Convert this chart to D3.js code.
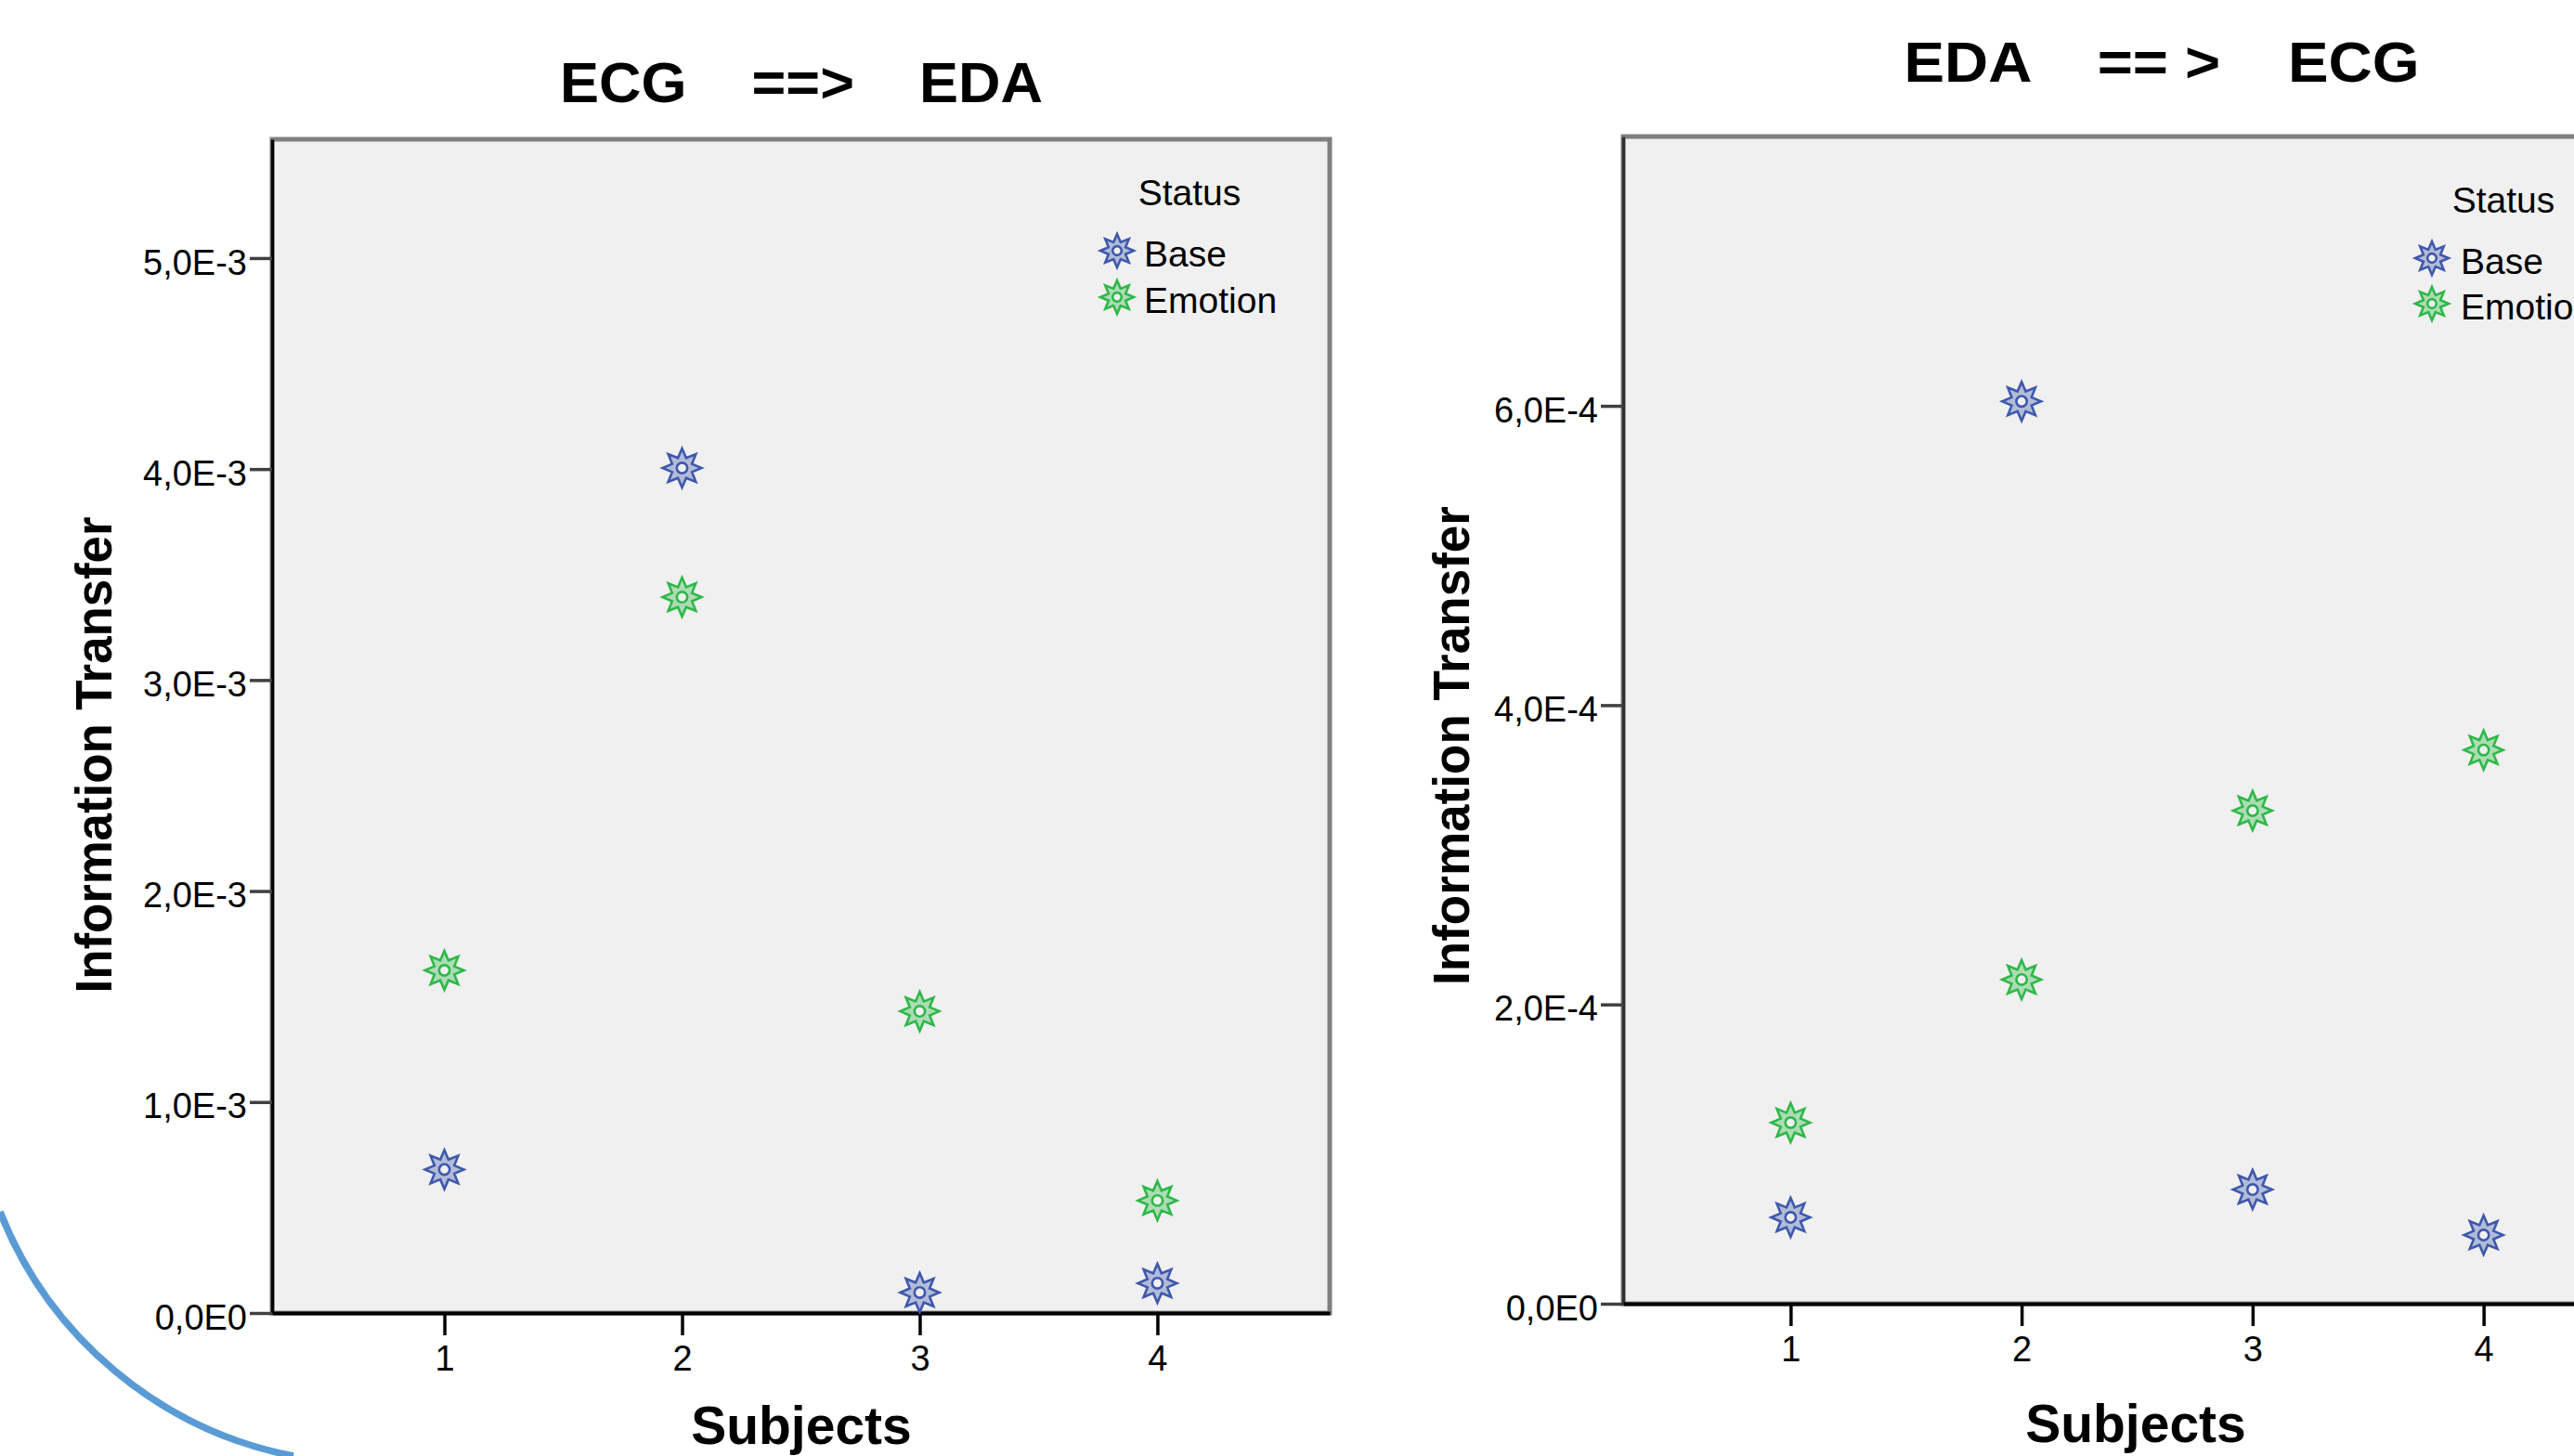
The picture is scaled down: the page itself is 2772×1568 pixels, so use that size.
<!DOCTYPE html>
<html>
<head>
<meta charset="utf-8">
<script src="https://cdn.jsdelivr.net/npm/d3@7"></script>
<style>
  html, body { margin: 0; padding: 0; background: #ffffff; }
  svg { display: block; }
  text { font-family: "Liberation Sans", Arial, sans-serif; }
</style>
</head>
<body>
<script>
// ---------------- DATA ----------------
const subjects = [1, 2, 3, 4];
const seriesNames = ["Base", "Emotion"];
const seriesColors = ["#3E58AC", "#2EB848"];

// Panel 1: ECG ==> EDA
const ecgToEdaBase    = [0.680e-3, 4.005e-3, 0.097e-3, 0.141e-3];
const ecgToEdaEmotion = [1.624e-3, 3.393e-3, 1.430e-3, 0.533e-3];
const leftYTicks = [0, 1e-3, 2e-3, 3e-3, 4e-3, 5e-3];
const leftYTickLabels = ["0,0E0", "1,0E-3", "2,0E-3", "3,0E-3", "4,0E-3", "5,0E-3"];

// Panel 2: EDA == > ECG
const edaToEcgBase    = [0.577e-4, 6.030e-4, 0.763e-4, 0.459e-4];
const edaToEcgEmotion = [1.210e-4, 2.166e-4, 3.295e-4, 3.700e-4];
const rightYTicks = [0, 2e-4, 4e-4, 6e-4];
const rightYTickLabels = ["0,0E0", "2,0E-4", "4,0E-4", "6,0E-4"];

const xTickLabels = ["1", "2", "3", "4"];
const titles = ["ECG    ==>    EDA", "EDA    == >    ECG"];
const yAxisTitle = "Information Transfer";
const xAxisTitle = "Subjects";
const legendTitle = "Status";

// ---------------- LAYOUT ----------------
const W = 2772, H = 1568;
const svg = d3.select("body").append("svg").attr("width", W).attr("height", H);
svg.append("rect").attr("width", W).attr("height", H).attr("fill", "#ffffff");

// decorative arc (slide background element), only the visible lower-left segment
svg.append("path")
  .attr("d", "M0,1305 A428,428 0 0,0 316,1568")
  .attr("fill", "none").attr("stroke", "#5B9BD5").attr("stroke-width", 7.5);

const panels = [
  {
    x0: 293, x1: 1432, y0: 150, y1: 1414, yMax: 5.563e-3,
    series: [ecgToEdaBase, ecgToEdaEmotion],
    yTicks: leftYTicks, yTickLabels: leftYTickLabels,
    title: titles[0], titleX: 863, titleY: 110, titleLen: 520, titleSize: 62,
    yTitleX: 120, yTitleY: 813, yTitleLen: 513,
    xTitleX: 863, xTitleY: 1555,
    legStatusX: 1281, legStatusY: 221, legMarkX: 1203, legTextX: 1232, legRows: [270, 320],
    leftAxisColor: "#000000"
  },
  {
    x0: 1748, x1: 2855, y0: 147, y1: 1404, yMax: 7.80e-4,
    series: [edaToEcgBase, edaToEcgEmotion],
    yTicks: rightYTicks, yTickLabels: rightYTickLabels,
    title: titles[1], titleX: 2328, titleY: 88, titleLen: 555, titleSize: 62,
    yTitleX: 1582, yTitleY: 803, yTitleLen: 516,
    xTitleX: 2300, xTitleY: 1553,
    legStatusX: 2696, legStatusY: 229, legMarkX: 2619, legTextX: 2650, legRows: [278, 327],
    leftAxisColor: "#303030"
  }
];

// 8-point star marker path
function starPath(R, r, hole) {
  const pts = [];
  for (let i = 0; i < 16; i++) {
    const a = i * Math.PI / 8;
    pts.push([a, i % 2 === 0 ? R : r]);
  }
  const star = d3.lineRadial().curve(d3.curveLinearClosed)(pts);
  const p = d3.path();
  p.moveTo(hole, 0);
  p.arc(0, 0, hole, 0, Math.PI * 2);
  p.closePath();
  return star + p.toString();
}

function marker(g, x, y, color, R) {
  g.append("path")
    .attr("transform", `translate(${x},${y})`)
    .attr("d", starPath(R, R * 0.55, R * 0.27))
    .attr("fill", color).attr("fill-opacity", 0.35)
    .attr("fill-rule", "evenodd")
    .attr("stroke", color).attr("stroke-width", 2.6)
    .attr("stroke-linejoin", "miter");
}

panels.forEach(P => {
  const g = svg.append("g");
  const x = d3.scaleLinear().domain([0.275, 4.725]).range([P.x0, P.x1]);
  const y = d3.scaleLinear().domain([0, P.yMax]).range([P.y1, P.y0]);

  // plot background + frame
  g.append("rect")
    .attr("x", P.x0).attr("y", P.y0)
    .attr("width", P.x1 - P.x0).attr("height", P.y1 - P.y0)
    .attr("fill", "#f0f0f0").attr("stroke", "#808080").attr("stroke-width", 5);

  // Y axis
  const yAxis = d3.axisLeft(y)
    .tickValues(P.yTicks)
    .tickFormat((d, i) => P.yTickLabels[i])
    .tickSize(24).tickSizeOuter(0).tickPadding(3);
  const ya = g.append("g").attr("transform", `translate(${P.x0},0)`).call(yAxis);
  ya.select(".domain").attr("stroke", P.leftAxisColor).attr("stroke-width", 3.5);
  ya.selectAll(".tick line").attr("stroke", "#404040").attr("stroke-width", 3.5);
  ya.selectAll(".tick text")
    .attr("font-family", "Liberation Sans, Arial, sans-serif")
    .attr("font-size", 38).attr("fill", "#000").attr("dy", "0.45em");
  ya.attr("font-family", null).attr("font-size", null);

  // X axis
  const xAxis = d3.axisBottom(x)
    .tickValues(subjects)
    .tickFormat((d, i) => xTickLabels[i])
    .tickSize(24).tickSizeOuter(0).tickPadding(11);
  const xa = g.append("g").attr("transform", `translate(0,${P.y1})`).call(xAxis);
  xa.select(".domain").attr("stroke", "#000").attr("stroke-width", 4);
  xa.selectAll(".tick line").attr("stroke", "#000").attr("stroke-width", 3.5);
  xa.selectAll(".tick text")
    .attr("font-family", "Liberation Sans, Arial, sans-serif")
    .attr("font-size", 38).attr("fill", "#000");
  xa.attr("font-family", null).attr("font-size", null);

  // data points
  P.series.forEach((vals, si) => {
    vals.forEach((v, i) => marker(g, x(subjects[i]), y(v), seriesColors[si], 21));
  });

  // titles
  g.append("text")
    .attr("x", P.titleX).attr("y", P.titleY)
    .attr("text-anchor", "middle").attr("font-weight", "bold")
    .attr("font-size", P.titleSize)
    .attr("textLength", P.titleLen).attr("lengthAdjust", "spacingAndGlyphs")
    .style("white-space", "pre")
    .text(P.title);

  g.append("text")
    .attr("transform", `translate(${P.yTitleX},${P.yTitleY}) rotate(-90)`)
    .attr("text-anchor", "middle").attr("font-weight", "bold")
    .attr("font-size", 56)
    .attr("textLength", P.yTitleLen).attr("lengthAdjust", "spacingAndGlyphs")
    .text(yAxisTitle);

  g.append("text")
    .attr("x", P.xTitleX).attr("y", P.xTitleY)
    .attr("text-anchor", "middle").attr("font-weight", "bold")
    .attr("font-size", 57)
    .text(xAxisTitle);

  // legend
  g.append("text")
    .attr("x", P.legStatusX).attr("y", P.legStatusY)
    .attr("text-anchor", "middle").attr("font-size", 39)
    .text(legendTitle);
  seriesNames.forEach((name, si) => {
    const cy = P.legRows[si];
    marker(g, P.legMarkX, cy, seriesColors[si], 18);
    g.append("text")
      .attr("x", P.legTextX).attr("y", cy + 17)
      .attr("font-size", 39)
      .text(name);
  });
});
</script>
</body>
</html>
